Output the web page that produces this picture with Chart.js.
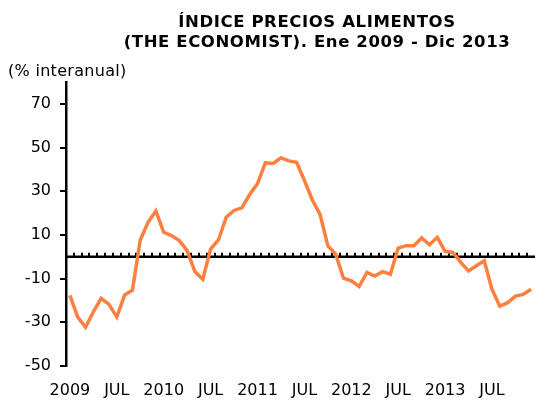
<!DOCTYPE html>
<html>
<head>
<meta charset="utf-8">
<script src="https://cdn.jsdelivr.net/npm/chart.js@4"></script>
<style>
  html, body { margin: 0; padding: 0; background: #fff; overflow: hidden; }
  #wrap { width: 535px; height: 403px; }
  canvas { display: block; }
</style>
</head>
<body>
<div id="wrap"><canvas id="myChart"></canvas></div>
<script>
const years = [2009, 2010, 2011, 2012, 2013];
const titleLines = ['ÍNDICE PRECIOS ALIMENTOS', '(THE ECONOMIST). Ene 2009 - Dic 2013'];
const unitLabel = '(% interanual)';
const yTicks = [-50, -30, -10, 10, 30, 50, 70];

// variación interanual, ene 2009 - dic 2013
const foodIndex = [
    -17.7, -27.6, -32.3, -25.2, -19.0, -21.8, -27.6, -17.5, -15.3, 7.7, 15.8, 20.9,
    11.2, 9.7, 7.4, 2.8, -6.9, -10.3, 3.5, 7.7, 18.1, 21.2, 22.4, 28.5,
    33.5, 43.0, 42.7, 45.3, 43.9, 43.2, 35.0, 26.1, 19.4, 5.0, 1.2, -9.8,
    -11.0, -13.6, -7.2, -8.8, -6.8, -8.0, 4.0, 5.1, 5.1, 8.6, 5.5, 8.9,
    2.5, 2.0, -2.6, -6.5, -4.1, -1.8, -14.9, -22.6, -21.0, -18.0, -17.2, -14.9
];

const months = [];
years.forEach(y => {
    for (let m = 1; m <= 12; m++) months.push(y + '-' + String(m).padStart(2, '0'));
});

const FONT = 'DejaVu Sans, Verdana, sans-serif';

// linea del cero con marcas hacia arriba en cada mes
const zeroAxis = {
    id: 'zeroAxis',
    beforeDatasetsDraw(chart) {
        const { ctx, chartArea, scales } = chart;
        const y0 = scales.y.getPixelForValue(0);
        const step = scales.x.getPixelForValue(1) - scales.x.getPixelForValue(0);
        ctx.save();
        ctx.strokeStyle = '#000';
        ctx.lineWidth = 2.5;
        ctx.beginPath();
        ctx.moveTo(chartArea.left, y0);
        ctx.lineTo(chartArea.right, y0);
        ctx.stroke();
        ctx.lineWidth = 2;
        for (let i = 0; i <= months.length; i++) {
            const x = Math.round(scales.x.getPixelForValue(i) - step / 2);
            if (x <= chartArea.left + 2 || x >= chartArea.right - 1) continue;
            ctx.beginPath();
            ctx.moveTo(x, y0);
            ctx.lineTo(x, y0 - 4);
            ctx.stroke();
        }
        ctx.restore();
    }
};

// titulo y unidad
const headings = {
    id: 'headings',
    afterDraw(chart) {
        const { ctx } = chart;
        ctx.save();
        ctx.fillStyle = '#000';
        ctx.textAlign = 'center';
        ctx.textBaseline = 'alphabetic';
        ctx.font = 'bold 16.5px ' + FONT;
        ctx.letterSpacing = '0.6px';
        ctx.fillText(titleLines[0], 317, 27);
        ctx.fillText(titleLines[1], 317, 47);
        ctx.textAlign = 'left';
        ctx.font = '16px ' + FONT;
        ctx.letterSpacing = '0.3px';
        ctx.fillText(unitLabel, 8, 76);
        ctx.restore();
    }
};

const ctx = document.getElementById('myChart').getContext('2d');
const myChart = new Chart(ctx, {
    type: 'line',
    data: {
        labels: months,
        datasets: [{
            data: foodIndex,
            borderColor: '#FF7F3F',
            borderWidth: 3.5,
            pointRadius: 0,
            tension: 0,
            fill: false
        }]
    },
    options: {
        responsive: true,
        maintainAspectRatio: false,
        animation: false,
        layout: { padding: { top: 82, right: 0, bottom: 0, left: 0 } },
        plugins: {
            legend: { display: false },
            title: { display: false },
            tooltip: { enabled: false }
        },
        scales: {
            x: {
                offset: true,
                afterFit: s => { s.height = 37; s.paddingRight = 0; s.paddingLeft = 0; },
                grid: { display: false, tickLength: 0 },
                border: { display: false },
                ticks: {
                    autoSkip: false,
                    maxRotation: 0,
                    padding: 15,
                    color: '#000',
                    font: { family: FONT, size: 16 },
                    callback: (v, i) => i % 12 === 0 ? String(years[i / 12]) : (i % 12 === 6 ? 'JUL' : '')
                }
            },
            y: {
                min: -50,
                max: 80,
                afterBuildTicks: s => { s.ticks = yTicks.map(v => ({ value: v })); },
                afterFit: s => { s.width = 66; },
                grid: { drawOnChartArea: false, color: '#000', tickLength: 6, lineWidth: 2 },
                border: { display: true, color: '#000', width: 2.5 },
                ticks: {
                    padding: 9,
                    color: '#000',
                    font: { family: FONT, size: 16 }
                }
            }
        }
    },
    plugins: [zeroAxis, headings]
});
</script>
</body>
</html>
